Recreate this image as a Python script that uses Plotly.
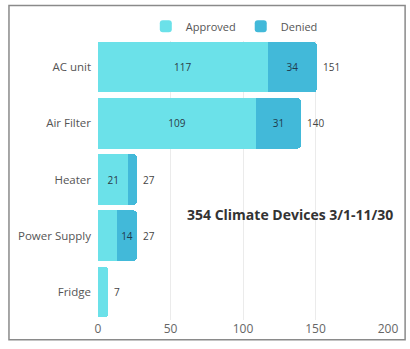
import plotly.graph_objects as go

categories = ["AC unit", "Air Filter", "Heater", "Power Supply", "Fridge"]
approved = [117, 109, 21, 13, 7]
denied = [34, 31, 6, 14, 0]
approved_labels = ["117", "109", "21", "", ""]
denied_labels = ["34", "31", "", "14", ""]
totals = [a + d for a, d in zip(approved, denied)]
x_ticks = [0, 50, 100, 150, 200]
title_text = "354 Climate Devices 3/1-11/30"

FONT = "Open Sans, sans-serif"
fig = go.Figure()
fig.add_trace(go.Bar(
    y=categories, x=approved, name="Approved", orientation="h",
    marker=dict(color="#6BE1E9", line=dict(width=0)),
    text=approved_labels, textposition="inside", insidetextanchor="middle",
    textfont=dict(color="#2b3b45", size=10, family=FONT), hoverinfo="x+name"))
fig.add_trace(go.Bar(
    y=categories, x=denied, name="Denied", orientation="h",
    marker=dict(color="#42B9D9", line=dict(width=0)),
    text=denied_labels, textposition="inside", insidetextanchor="middle",
    textfont=dict(color="#1f3b4d", size=10, family=FONT), hoverinfo="x+name"))

annotations = [dict(text=str(t), x=t, y=c, xref="x", yref="y", xanchor="left",
                    yanchor="middle", xshift=4, showarrow=False,
                    font=dict(color="#444", size=10, family=FONT))
               for c, t in zip(categories, totals)]
annotations.append(dict(text="<b>" + title_text + "</b>", xref="paper", yref="paper",
                        x=1.024, y=0.375, xanchor="right", yanchor="middle", showarrow=False,
                        font=dict(size=14, color="#333", family=FONT)))

fig.update_layout(
    width=410, height=349,
    margin=dict(l=98, r=22, t=39, b=24),
    paper_bgcolor="white", plot_bgcolor="white",
    barmode="stack", bargap=0.1, barcornerradius=4,
    font=dict(family=FONT, size=11, color="#555"),
    legend=dict(orientation="h", x=0.47, xanchor="center", y=1.045, yanchor="middle",
                font=dict(size=11, color="#555"), itemwidth=30, traceorder="normal"),
    xaxis=dict(range=[0, 200], tickvals=x_ticks, showgrid=True, gridcolor="#ebebeb",
               gridwidth=1, zeroline=False, showline=False, ticks="",
               tickfont=dict(size=12, color="#666")),
    yaxis=dict(autorange="reversed", showgrid=False, zeroline=False, showline=False,
               ticks="", ticklabelstandoff=6, tickfont=dict(size=11.5, color="#555")),
    shapes=[dict(type="rect", xref="paper", yref="paper", x0=-0.307, x1=1.059,
                 y0=-0.07, y1=1.119, line=dict(color="#8a8a8a", width=1.5),
                 fillcolor="rgba(0,0,0,0)", layer="below")],
    annotations=annotations,
)
fig.write_html("out.html")
